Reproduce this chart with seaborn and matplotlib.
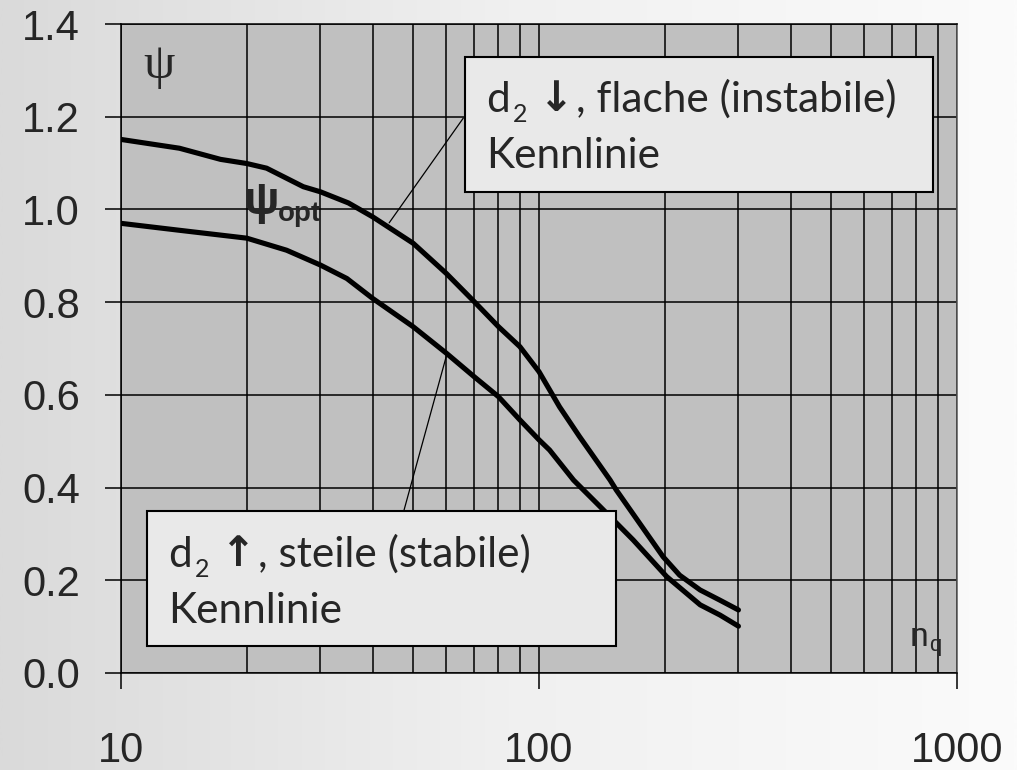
import numpy as np
import pandas as pd
import matplotlib
matplotlib.use("Agg")
import matplotlib.pyplot as plt
import seaborn as sns
from matplotlib.patches import Rectangle
from matplotlib.ticker import FixedLocator, NullFormatter

# Specific speed n_q versus pressure coefficient psi_opt
nq_flat = [10, 13.8, 17.3, 20, 22.3, 27.3, 30, 35, 40, 50, 60, 70, 80, 90, 100,
           112, 125, 148, 153, 198, 217, 243, 271, 300]
psi_flat = [1.151, 1.132, 1.108, 1.099, 1.089, 1.049, 1.038, 1.014, 0.984, 0.927,
            0.862, 0.801, 0.747, 0.704, 0.650, 0.574, 0.510, 0.416, 0.395, 0.251,
            0.211, 0.179, 0.157, 0.136]

nq_steep = [10, 13.8, 20, 24.9, 30, 34.7, 40, 50, 60, 70, 80, 90, 100, 106, 121,
            140, 168, 202, 243, 271, 300]
psi_steep = [0.970, 0.955, 0.938, 0.912, 0.880, 0.851, 0.808, 0.747, 0.690, 0.639,
             0.596, 0.546, 0.503, 0.481, 0.416, 0.359, 0.287, 0.208, 0.147, 0.125,
             0.101]

curve_names = ["flache", "steile"]
y_ticks = [0.0, 0.2, 0.4, 0.6, 0.8, 1.0, 1.2, 1.4]
x_ticks = [10, 100, 1000]
x_tick_labels = ["10", "100", "1000"]

label_flat = ["d", "2", "\u2193", ", flache (instabile)", "Kennlinie"]
label_steep = ["d", "2", "\u2191", ", steile (stabile)", "Kennlinie"]

df = pd.DataFrame({
    "nq": nq_flat + nq_steep,
    "psi": psi_flat + psi_steep,
    "curve": [curve_names[0]] * len(nq_flat) + [curve_names[1]] * len(nq_steep),
})

sns.set_theme(style="ticks")
plt.rcParams["font.family"] = ["Liberation Sans", "DejaVu Sans"]

W, H = 1017, 770
fig = plt.figure(figsize=(W / 100, H / 100), dpi=100)

# light grey-to-white backdrop
bg = fig.add_axes([0, 0, 1, 1], zorder=-10)
grad = np.linspace(0, 1, 512)[None, :]
bg.imshow(grad, aspect="auto", cmap=matplotlib.colors.LinearSegmentedColormap.from_list(
    "bg", ["#dadada", "#f0f0f0", "#fbfbfb"]), extent=[0, 1, 0, 1])
bg.set_axis_off()

L, R, T, B = 121, 957, 24, 673
ax = fig.add_axes([L / W, 1 - B / H, (R - L) / W, (B - T) / H])
ax.set_facecolor("#c0c0c0")

sns.lineplot(data=df, x="nq", y="psi", hue="curve", palette=["black", "black"],
             linewidth=3.7, legend=False, ax=ax, zorder=5, sort=True)

ax.set_xscale("log")
ax.set_xlim(10, 1000)
ax.set_ylim(0, 1.4)
ax.set_xlabel("")
ax.set_ylabel("")

ax.xaxis.set_major_locator(FixedLocator(x_ticks))
ax.set_xticklabels(x_tick_labels)
minor = [m * d for d in (10, 100) for m in range(2, 10)]
ax.xaxis.set_minor_locator(FixedLocator(minor))
ax.xaxis.set_minor_formatter(NullFormatter())
ax.set_yticks(y_ticks)
ax.set_yticklabels([f"{v:.1f}" for v in y_ticks])

ax.grid(which="both", axis="x", color="black", linewidth=1.1)
ax.grid(which="major", axis="y", color="black", linewidth=1.1)
ax.set_axisbelow(True)

ax.tick_params(axis="y", which="major", direction="out", length=11.5, width=1.1,
               color="black", labelsize=30, pad=18)
ax.tick_params(axis="x", which="major", direction="out", length=11.5, width=1.1,
               color="black", labelsize=30, pad=30)
ax.tick_params(axis="x", which="minor", length=0)
for s in ax.spines.values():
    s.set_color("black")
    s.set_linewidth(1.1)
ax.spines["right"].set_color("#555555")

ax_w, ax_h = R - L, B - T


def axfrac(px, py):
    return ((px - L) / ax_w, (B - py) / ax_h)


# label boxes
for (x0, y0, x1, y1) in [(465, 57, 933, 192), (147, 511, 616, 646)]:
    fx0, fy1 = axfrac(x0, y0)
    fx1, fy0 = axfrac(x1, y1)
    ax.add_patch(Rectangle((fx0, fy0), fx1 - fx0, fy1 - fy0, transform=ax.transAxes,
                           facecolor="#e9e9e9", edgecolor="black", linewidth=1.5,
                           zorder=8))

# leader lines from the boxes to the curves
ax.plot([65.9, 43.8], [1.197, 0.971], color="black", linewidth=0.9, zorder=6)
ax.plot([47.5, 60.0], [0.350, 0.683], color="black", linewidth=0.9, zorder=6)

renderer = fig.canvas.get_renderer()
box_font = ["Lato", "DejaVu Sans"]
BOX_FS = 30.5


def text_run(x_px, y_px, pieces):
    x = x_px
    for s, size, dy, gap, kw in pieces:
        x += gap
        t = fig.text(x / W, 1 - (y_px + dy) / H, s, fontsize=size, ha="left",
                     va="baseline", zorder=10, **kw)
        x += t.get_window_extent(renderer).width


def label_box(x_px, y_px, parts):
    d, sub, arrow, rest, second = parts
    text_run(x_px, y_px, [
        (d, BOX_FS, 0, 0, dict(family=box_font)),
        (sub, 18, 10, 3, dict(family=box_font)),
        (arrow, 30, -1, 12, dict(family=["DejaVu Sans"], fontweight="bold")),
        (rest, BOX_FS, 0, 2, dict(family=box_font)),
    ])
    fig.text(x_px / W, 1 - (y_px + 56) / H, second, fontsize=BOX_FS, family=box_font,
             ha="left", va="baseline", zorder=10)


label_box(486, 112, label_flat)
label_box(168, 567, label_steep)

# axis symbols
fig.text(159 / W, 1 - 66 / H, "\u03c8", fontsize=36, family=["Liberation Serif"],
         ha="center", va="center")
fig.text(244 / W, 1 - 214 / H, "\u03c8", fontsize=34, fontweight="bold",
         family=["Liberation Sans"], ha="left", va="baseline")
fig.text(278 / W, 1 - 221 / H, "opt", fontsize=20, fontweight="bold",
         family=["Liberation Sans"], ha="left", va="baseline")
fig.text(910 / W, 1 - 646 / H, "n", fontsize=24, family=["Liberation Sans"],
         ha="left", va="baseline")
fig.text(929 / W, 1 - 651 / H, "q", fontsize=16, family=["Liberation Sans"],
         ha="left", va="baseline")

fig.savefig("out.png", dpi=100)
